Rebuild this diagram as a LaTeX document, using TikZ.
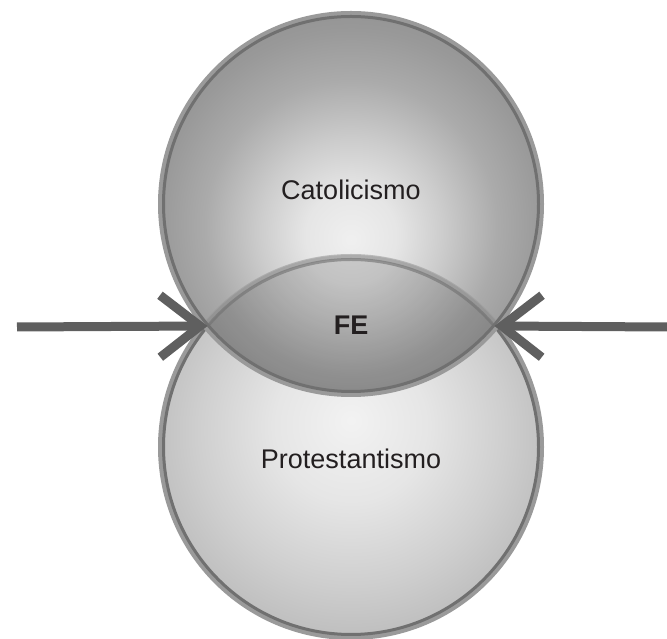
\documentclass[tikz,border=0pt]{standalone}
\usepackage{fontspec}
\setmainfont{Liberation Sans}
\usepackage{xcolor}
\usetikzlibrary{arrows.meta,positioning,calc}
\definecolor{ink}     {HTML}{231F20}
\definecolor{rimlight}{HTML}{9A9A9A}
\definecolor{rimdark} {HTML}{707070}
\definecolor{shaft}   {HTML}{5F5F5F}
\pgfdeclareradialshading{catshade}{\pgfpoint{0bp}{-4.7bp}}{%
  rgb(0bp)=(.94,.94,.94); rgb(6bp)=(.90,.90,.90); rgb(12bp)=(.80,.80,.80);
  rgb(19bp)=(.67,.67,.67); rgb(25bp)=(.60,.60,.60); rgb(30bp)=(.56,.56,.56);
  rgb(50bp)=(.56,.56,.56)}
\pgfdeclareradialshading{protshade}{\pgfpoint{0bp}{3.5bp}}{%
  rgb(0bp)=(.95,.95,.95); rgb(10bp)=(.90,.90,.90); rgb(20bp)=(.81,.81,.81);
  rgb(29bp)=(.72,.72,.72); rgb(50bp)=(.72,.72,.72)}
\tikzset{
  rimout/.style ={draw=rimlight, line width=5bp},
  rimin/.style  ={draw=rimdark, line width=3bp},
  label/.style  ={font=\fontsize{27bp}{32bp}\selectfont, text=ink, inner sep=0pt},
  push/.style   ={draw=shaft, line width=9bp,
                  -{Straight Barb[length=40bp,width=62bp,sharp]}},
}
\begin{document}
\begin{tikzpicture}[x=1bp,y=1bp]
  \useasboundingbox (0,0) rectangle (667,639);
  \coordinate (catc)  at (351,435);
  \coordinate (protc) at (351,192);
  \coordinate (lensL) at (207.5,313);
  \coordinate (lensR) at (494.5,313);
  \coordinate (inL)   at (17,312);
  \coordinate (inR)   at (667,312);

  % lower circle
  \shade[shading=protshade] (protc) circle (192);
  \draw[rimout] (protc) circle (190.5);
  \draw[rimin]  (protc) circle (187.5);

  % upper circle
  \shade[shading=catshade] (catc) circle (192);

  % lens: darker, lower rim showing through
  \begin{scope}
    \clip (catc) circle (188);
    \fill[black,opacity=0.15] (protc) circle (192);
    \draw[rimout,opacity=0.6] (protc) circle (190.5);
    \draw[rimin,opacity=0.6]  (protc) circle (187.5);
  \end{scope}
  \draw[rimout] (catc) circle (190.5);
  \draw[rimin]  (catc) circle (187.5);

  \draw[push] (inL) -- (lensL);
  \draw[push] (inR) -- (lensR);

  \node[label] (cat)  at (351,449) {Catolicismo};
  \node[label,font=\fontsize{27bp}{32bp}\selectfont\bfseries] (fe) at (351,314) {FE};
  \node[label] (prot) at (351,180) {Protestantismo};
\end{tikzpicture}
\end{document}
